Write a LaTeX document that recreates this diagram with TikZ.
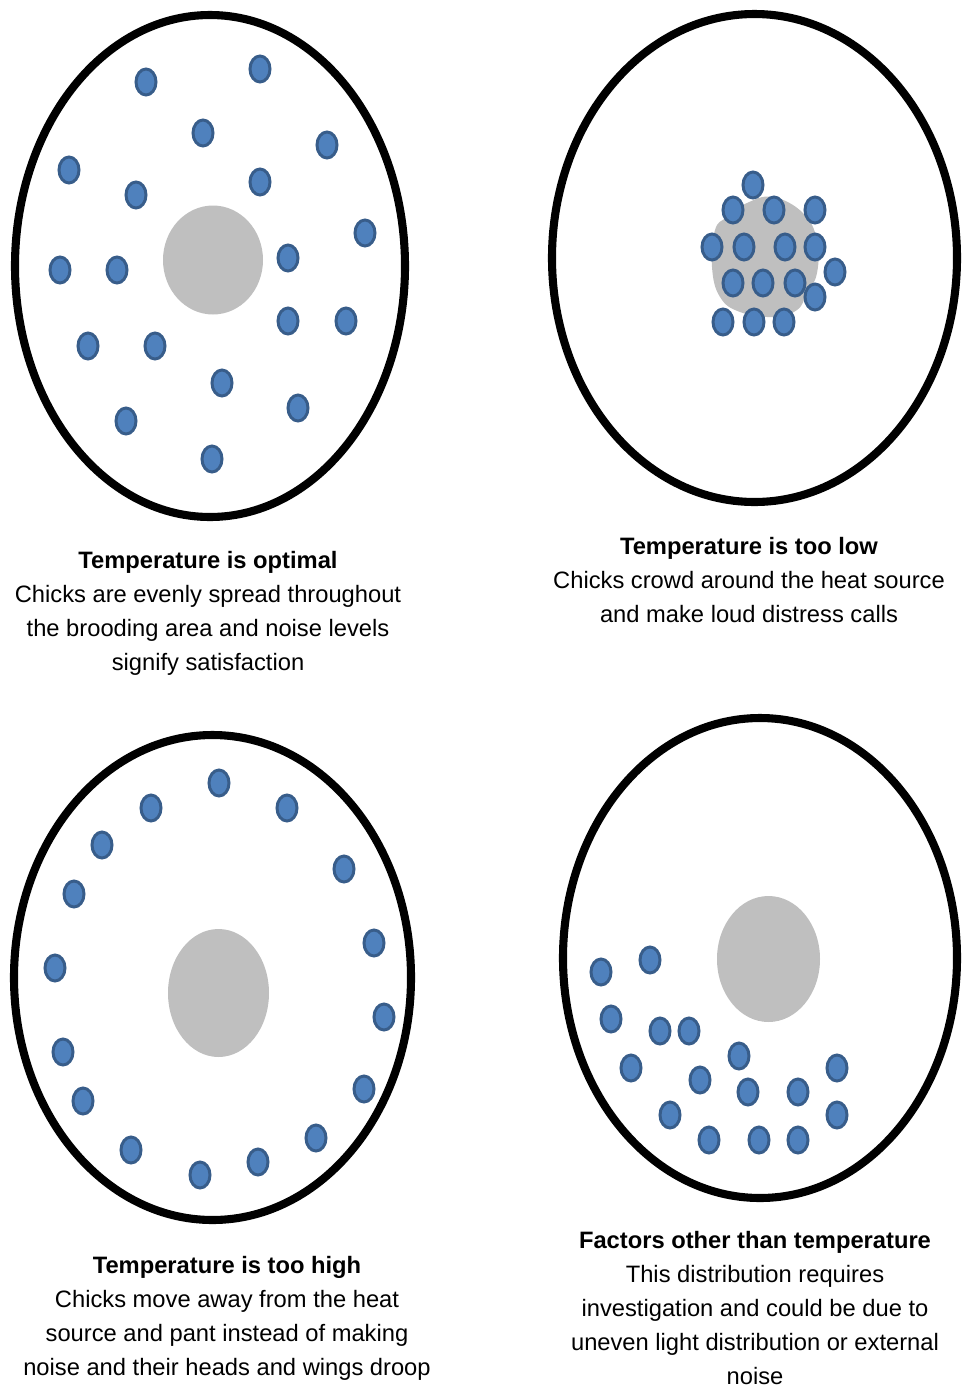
\documentclass[tikz,border=0pt]{standalone}
\usepackage{fontspec}
\setmainfont{Liberation Sans}
\definecolor{chickfill}{HTML}{4F81BD}
\definecolor{chickline}{HTML}{385D8A}
\definecolor{heat}{HTML}{BFBFBF}
\begin{document}
\begin{tikzpicture}[x=0.02cm,y=-0.02cm,
  pen/.style={line width=4.6pt, draw=black},
  chick/.style={fill=chickfill, draw=chickline, line width=1.7pt},
  lamp/.style={fill=heat},
  caption/.style={anchor=north, inner sep=0pt, align=center, font=\fontsize{13.5}{19.3}\selectfont}]
\useasboundingbox (0,0) rectangle (962,1390);

% ---------- top left: optimal ----------
\draw[pen] (210,266) ellipse [x radius=195, y radius=251];
\fill[lamp] (213,260) ellipse [x radius=50, y radius=54.5];
\foreach \p in {(146,82),(260,69),(203,133),(327,145),(69,170),(136,195),(260,182),(365,233),(60,270),(117,270),(288,258),(288,321),(346,321),(88,346),(155,346),(222,383),(298,408),(126,421),(212,459)}
  \draw[chick] \p ellipse [x radius=10, y radius=13];
\node[caption] (capA) at (208,551) {\textbf{Temperature is optimal}\\Chicks are evenly spread throughout\\the brooding area and noise levels\\signify satisfaction};

% ---------- top right: too low ----------
\draw[pen] (754.5,258) ellipse [x radius=202.5, y radius=244];
\fill[lamp] plot[smooth cycle, tension=0.7] coordinates {(773,197) (803,213) (817,240) (817,273) (807,293) (797,310) (773,317) (740,312) (720,297) (712,267) (715,230) (727,217) (747,203)};
\foreach \p in {(753,185),(733,210),(774,210),(815,210),(712,247),(744,247),(785,247),(815,247),(835,272),(733,283),(763,283),(795,283),(815,297),(723,322),(754,322),(784,322)}
  \draw[chick] \p ellipse [x radius=10, y radius=13];
\node[caption] (capB) at (749,537) {\textbf{Temperature is too low}\\Chicks crowd around the heat source\\and make loud distress calls};

% ---------- bottom left: too high ----------
\draw[pen] (212.5,977.5) ellipse [x radius=198.5, y radius=242.5];
\fill[lamp] (218.5,993) ellipse [x radius=50.5, y radius=64];
\foreach \p in {(219,783),(151,808),(287,808),(102,845),(344,869),(74,894),(374,943),(55,968),(384,1017),(63,1052),(364,1089),(83,1101),(316,1138),(131,1150),(258,1162),(200,1175)}
  \draw[chick] \p ellipse [x radius=10, y radius=13];
\node[caption] (capC) at (227,1256) {\textbf{Temperature is too high}\\Chicks move away from the heat\\source and pant instead of making\\noise and their heads and wings droop};

% ---------- bottom right: other factors ----------
\draw[pen] (760,958) ellipse [x radius=197, y radius=240];
\fill[lamp] (768.5,959) ellipse [x radius=51.5, y radius=63];
\foreach \p in {(601,972),(650,960),(611,1019),(660,1031),(689,1031),(631,1068),(739,1056),(700,1080),(837,1068),(748,1092),(798,1092),(670,1115),(837,1115),(709,1140),(759,1140),(798,1140)}
  \draw[chick] \p ellipse [x radius=10, y radius=13];
\node[caption] (capD) at (755,1231) {\textbf{Factors other than temperature}\\This distribution requires\\investigation and could be due to\\uneven light distribution or external\\noise};
\end{tikzpicture}
\end{document}
